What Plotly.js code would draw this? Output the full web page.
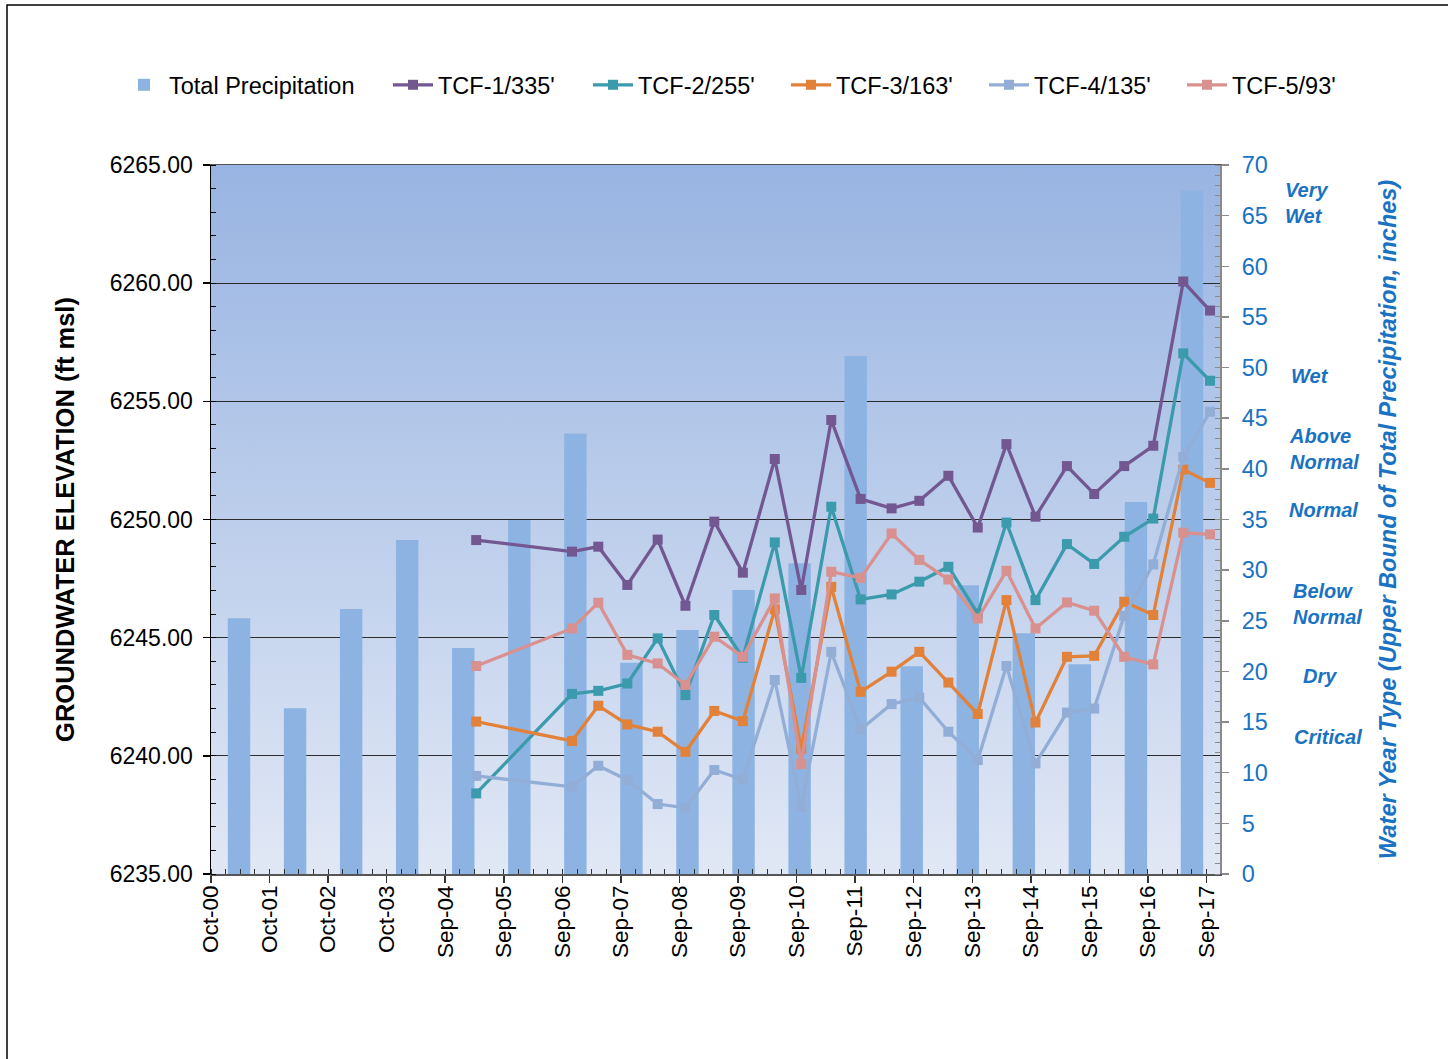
<!DOCTYPE html>
<html>
<head>
<meta charset="utf-8">
<script src="https://cdn.plot.ly/plotly-3.0.1.min.js"></script>
<style>html,body{margin:0;padding:0;background:#fff;}#chart{width:1448px;height:1059px;}</style>
</head>
<body>
<div id="chart"></div>
<script>
// ---- data ----
const waterYears = ['WY2000','WY2001','WY2002','WY2003','WY2004','WY2005','WY2006','WY2007','WY2008','WY2009','WY2010','WY2011','WY2012','WY2013','WY2014','WY2015','WY2016','WY2017'];
const totalPrecip = [25.24,16.36,26.16,32.97,22.31,34.95,43.5,20.86,24.09,28.04,30.67,51.14,20.5,28.5,23.76,20.7,36.73,67.46];

const sampleDates = ['2005-04-11','2006-11-29','2007-05-12','2007-11-09','2008-05-16','2008-11-05','2009-05-04','2009-10-29','2010-05-16','2010-10-28','2011-05-03','2011-11-02','2012-05-13','2012-11-02','2013-05-02','2013-11-01','2014-04-29','2014-10-27','2015-05-11','2015-10-28','2016-05-02','2016-10-30','2017-05-05','2017-10-19'];
const tcf1 = [6249.13,6248.64,6248.85,6247.23,6249.15,6246.35,6249.91,6247.75,6252.56,6247.02,6254.21,6250.87,6250.47,6250.79,6251.85,6249.66,6253.19,6250.12,6252.26,6251.08,6252.26,6253.12,6260.07,6258.84];
const tcf2 = [6238.41,6242.62,6242.75,6243.06,6244.97,6242.57,6245.96,6244.15,6249.03,6243.30,6250.54,6246.62,6246.83,6247.37,6248.00,6246.02,6249.87,6246.59,6248.96,6248.12,6249.27,6250.04,6257.03,6255.87];
const tcf3 = [6241.45,6240.63,6242.12,6241.33,6241.02,6240.17,6241.90,6241.47,6246.20,6240.30,6247.15,6242.71,6243.56,6244.40,6243.10,6241.77,6246.59,6241.41,6244.19,6244.23,6246.52,6245.96,6252.11,6251.55];
const tcf4 = [6239.15,6238.69,6239.58,6238.98,6237.96,6237.80,6239.40,6239.00,6243.21,6237.84,6244.40,6241.11,6242.19,6242.46,6241.02,6239.82,6243.80,6239.68,6241.83,6242.00,6245.93,6248.10,6252.65,6254.56];
const tcf5 = [6243.80,6245.39,6246.48,6244.27,6243.91,6243.00,6245.04,6244.19,6246.66,6239.65,6247.79,6247.53,6249.41,6248.29,6247.46,6245.81,6247.83,6245.39,6246.49,6246.14,6244.19,6243.87,6249.44,6249.37];

const seriesNames = ["TCF-1/335'","TCF-2/255'","TCF-3/163'","TCF-4/135'","TCF-5/93'"];
const seriesValues = [tcf1, tcf2, tcf3, tcf4, tcf5];
const seriesColors = ['#735791','#3b9aab','#e2823a','#93aed6','#d8918f'];

const yearTypes = ['Very<br>Wet','Wet','Above<br>Normal','Normal','Below<br>Normal','Dry','Critical'];

// ---- styling ----
const FONT = '"Liberation Sans", Arial, sans-serif';
const BLUE = '#1a72c2';
const DAY = 86400000;

const legendIds = ['legend','legend2','legend3','legend4','legend5','legend6'];

const traces = [];
traces.push({
  type: 'bar', name: 'Total Precipitation', x: waterYears, y: totalPrecip,
  xaxis: 'x', yaxis: 'y', legend: legendIds[0],
  marker: {color: '#8db3e2'}
});
seriesNames.forEach((n, i) => {
  traces.push({
    type: 'scatter', mode: 'lines+markers', name: n,
    x: sampleDates, y: seriesValues[i], xaxis: 'x2', yaxis: 'y2',
    legend: legendIds[i + 1],
    line: {color: seriesColors[i], width: 3.3},
    marker: {symbol: 'square', size: 10, color: seriesColors[i]}
  });
});

const gradSvg = "<svg xmlns='http://www.w3.org/2000/svg' width='100' height='100' preserveAspectRatio='none'>" +
  "<defs><linearGradient id='g' x1='0' y1='0' x2='0' y2='1'>" +
  "<stop offset='0' stop-color='#98b4e2'/><stop offset='1' stop-color='#e1e8f5'/>" +
  "</linearGradient></defs><rect width='100' height='100' fill='url(#g)'/></svg>";

const L = 211, R = 1220, T = 165, B = 874;
const W = R - L, H = B - T;
const px = v => (v - L) / W;
const py = v => (B - v) / H;

const typeX = [1283, 1289, 1287, 1287, 1291, 1301, 1292];
const typeY = [66.2, 49.2, 42.0, 35.9, 26.7, 19.5, 13.5];

const annotations = yearTypes.map((t, i) => ({
  text: t, xref: 'paper', yref: 'y', x: px(typeX[i]), y: typeY[i],
  xanchor: 'left', yanchor: 'middle', align: 'left', showarrow: false,
  font: {family: FONT, size: 20, color: BLUE, weight: 'bold', style: 'italic'}
}));

const legendTextStart = [169, 438, 638, 836, 1034, 1232];

const layout = {
  width: 1448, height: 1059,
  margin: {l: L, r: 1448 - R, t: T, b: 1059 - B, pad: 0},
  paper_bgcolor: '#ffffff',
  plot_bgcolor: 'rgba(0,0,0,0)',
  bargap: 0.6,
  showlegend: true,
  xaxis: {
    type: 'category', range: [-0.5, 17.5], visible: false, fixedrange: true
  },
  yaxis: {
    side: 'right', anchor: 'x', range: [0, 70], dtick: 5, tick0: 0,
    showgrid: false, zeroline: false,
    showline: true, linecolor: '#8a8a8a', linewidth: 2,
    ticks: 'outside', ticklen: 7, tickcolor: '#8a8a8a', tickwidth: 1.5,
    minor: {dtick: 1, ticks: 'inside', ticklen: 5, tickcolor: '#8a8a8a', tickwidth: 1, showgrid: false},
    tickfont: {family: FONT, size: 23.5, color: BLUE},
    ticklabelstandoff: 8,
    title: {
      text: 'Water Year Type (Upper Bound of Total Precipitation, inches)',
      font: {family: FONT, size: 23.5, color: BLUE, weight: 'bold', style: 'italic'},
      standoff: 113
    }
  },
  xaxis2: {
    type: 'date', overlaying: 'x', anchor: 'y2', side: 'bottom',
    range: ['2000-10-01', '2017-12-20'],
    tick0: '2000-10-01', dtick: 365 * DAY, tickformat: '%b-%y', tickangle: -90,
    showgrid: false, zeroline: false,
    showline: true, linecolor: '#555', linewidth: 1.5, mirror: true,
    ticks: 'outside', ticklen: 7, tickcolor: '#333', tickwidth: 1.5,
    minor: {tick0: '2000-10-01', dtick: 91.25 * DAY, ticks: 'inside', ticklen: 5, tickcolor: '#333', tickwidth: 1, showgrid: false},
    tickfont: {family: FONT, size: 22.5, color: '#000'},
    ticklabelstandoff: -6
  },
  yaxis2: {
    overlaying: 'y', anchor: 'x2', side: 'left', range: [6235, 6265], dtick: 5, tick0: 6235,
    tickformat: '.2f',
    showgrid: true, gridcolor: '#2b2b2b', gridwidth: 1, zeroline: false,
    showline: true, linecolor: '#000', linewidth: 1.5,
    ticks: 'outside', ticklen: 7, tickcolor: '#000', tickwidth: 1.5,
    minor: {dtick: 1, ticks: 'inside', ticklen: 5, tickcolor: '#000', tickwidth: 1, showgrid: false},
    tickfont: {family: FONT, size: 23, color: '#000'},
    ticklabelstandoff: 5,
    title: {
      text: 'GROUNDWATER ELEVATION (ft msl)',
      font: {family: FONT, size: 25.5, color: '#000', weight: 'bold'},
      standoff: 28
    }
  },
  images: [{
    source: 'data:image/svg+xml;base64,' + btoa(gradSvg),
    xref: 'paper', yref: 'paper', x: 0, y: 1, sizex: 1, sizey: 1,
    xanchor: 'left', yanchor: 'top', sizing: 'stretch', layer: 'below'
  }],
  shapes: [{
    type: 'rect', xref: 'paper', yref: 'paper',
    x0: px(7), x1: px(1470), y0: py(1080), y1: py(5),
    line: {color: '#000', width: 1.5}, fillcolor: 'rgba(0,0,0,0)', layer: 'below'
  }],
  annotations: annotations
};

legendIds.forEach((id, i) => {
  layout[id] = {
    orientation: 'h', x: px(legendTextStart[i] - 50), xanchor: 'left',
    y: py(63), yanchor: 'top',
    font: {family: FONT, size: 23.5, color: '#000'}, bgcolor: 'rgba(0,0,0,0)',
    itemwidth: 40
  };
});

Plotly.newPlot('chart', traces, layout, {displayModeBar: false, staticPlot: true});
</script>
</body>
</html>
